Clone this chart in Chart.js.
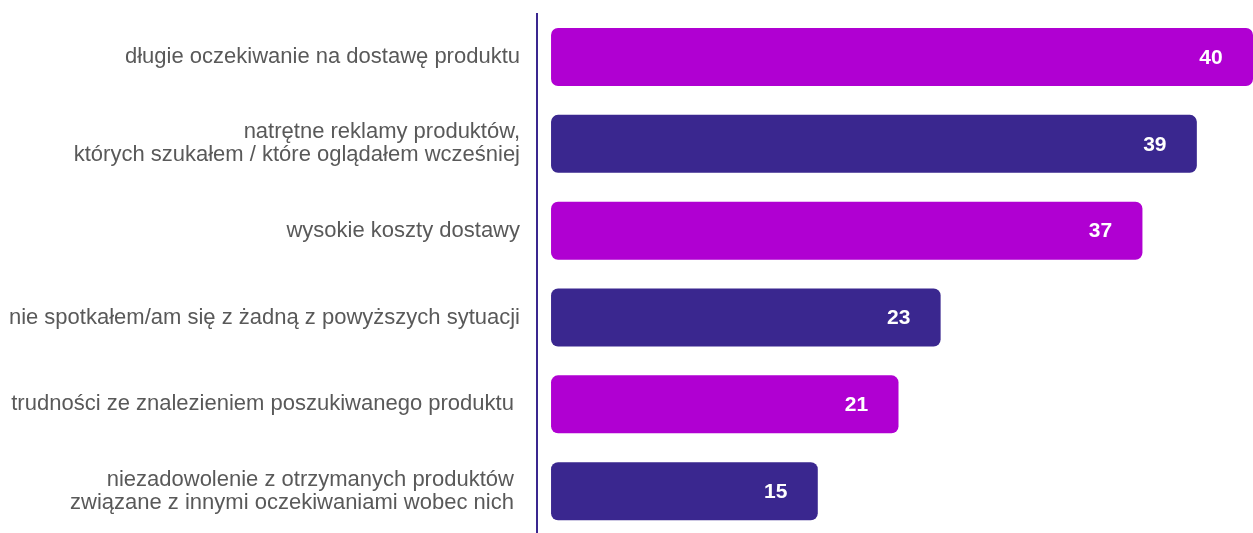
<!DOCTYPE html>
<html lang="pl">
<head>
<meta charset="utf-8">
<title>Wykres</title>
<script src="https://cdn.jsdelivr.net/npm/chart.js@4"></script>
<style>
  html, body { margin: 0; padding: 0; background: #ffffff; overflow: hidden; }
  #box { position: relative; width: 1253px; height: 535px; }
</style>
</head>
<body>
<div id="box"><canvas id="diagram"></canvas></div>
<script>
// kategorie (etykiety osi y)
const categories = [
  "długie oczekiwanie na dostawę produktu",
  ["natrętne reklamy produktów,", "których szukałem / które oglądałem wcześniej"],
  "wysokie koszty dostawy",
  "nie spotkałem/am się z żadną z powyższych sytuacji",
  "trudności ze znalezieniem poszukiwanego produktu ",
  ["niezadowolenie z otrzymanych produktów ", "związane z innymi oczekiwaniami wobec nich "]
];

// wartości pokazane na słupkach
const shownValues = [40, 39, 37, 23, 21, 15];

// długości słupków (w tych samych jednostkach)
const barLengths = [40, 36.8, 33.7, 22.2, 19.8, 15.2];

// kolory na zmianę
const barColors = ["#b000d2", "#3a278f", "#b000d2", "#3a278f", "#b000d2", "#3a278f"];

const fontFamily = "'Liberation Sans', Arial, sans-serif";

// wpisuje liczby w słupki, przy prawym końcu
const valueLabels = {
  id: "valueLabels",
  afterDatasetsDraw(chart) {
    const ctx = chart.ctx;
    const meta = chart.getDatasetMeta(0);
    ctx.save();
    ctx.fillStyle = "#ffffff";
    ctx.font = "bold 21px " + fontFamily;
    ctx.textAlign = "center";
    ctx.textBaseline = "middle";
    meta.data.forEach((bar, i) => {
      ctx.fillText(String(shownValues[i]), bar.x - 42, bar.y + 1);
    });
    ctx.restore();
  }
};

const data = {
  labels: categories,
  datasets: [
    {
      data: barLengths,
      backgroundColor: barColors,
      borderRadius: 7,
      borderSkipped: false,
      categoryPercentage: 1,
      barPercentage: 0.668
    }
  ]
};

const config = {
  type: "bar",
  data,
  options: {
    indexAxis: "y",
    responsive: true,
    maintainAspectRatio: false,
    animation: false,
    layout: {
      padding: { top: 13.6, bottom: 0.4, left: 0, right: 0 }
    },
    plugins: {
      legend: { display: false },
      tooltip: { enabled: false }
    },
    scales: {
      x: {
        display: false,
        min: -0.8,
        max: 40
      },
      y: {
        grid: { display: false },
        border: { display: true, color: "#3a278f", width: 2 },
        ticks: {
          color: "#595959",
          padding: 9,
          font: { family: fontFamily, size: 22, lineHeight: 1.04 }
        },
        afterFit(scale) {
          // stała szerokość osi i bez dodatkowego marginesu od etykiet
          scale.width = 537;
          scale.paddingTop = 0;
          scale.paddingBottom = 0;
        }
      }
    }
  },
  plugins: [valueLabels]
};

const canvas = document.getElementById("diagram");
const chart = new Chart(canvas, config);
</script>
</body>
</html>
